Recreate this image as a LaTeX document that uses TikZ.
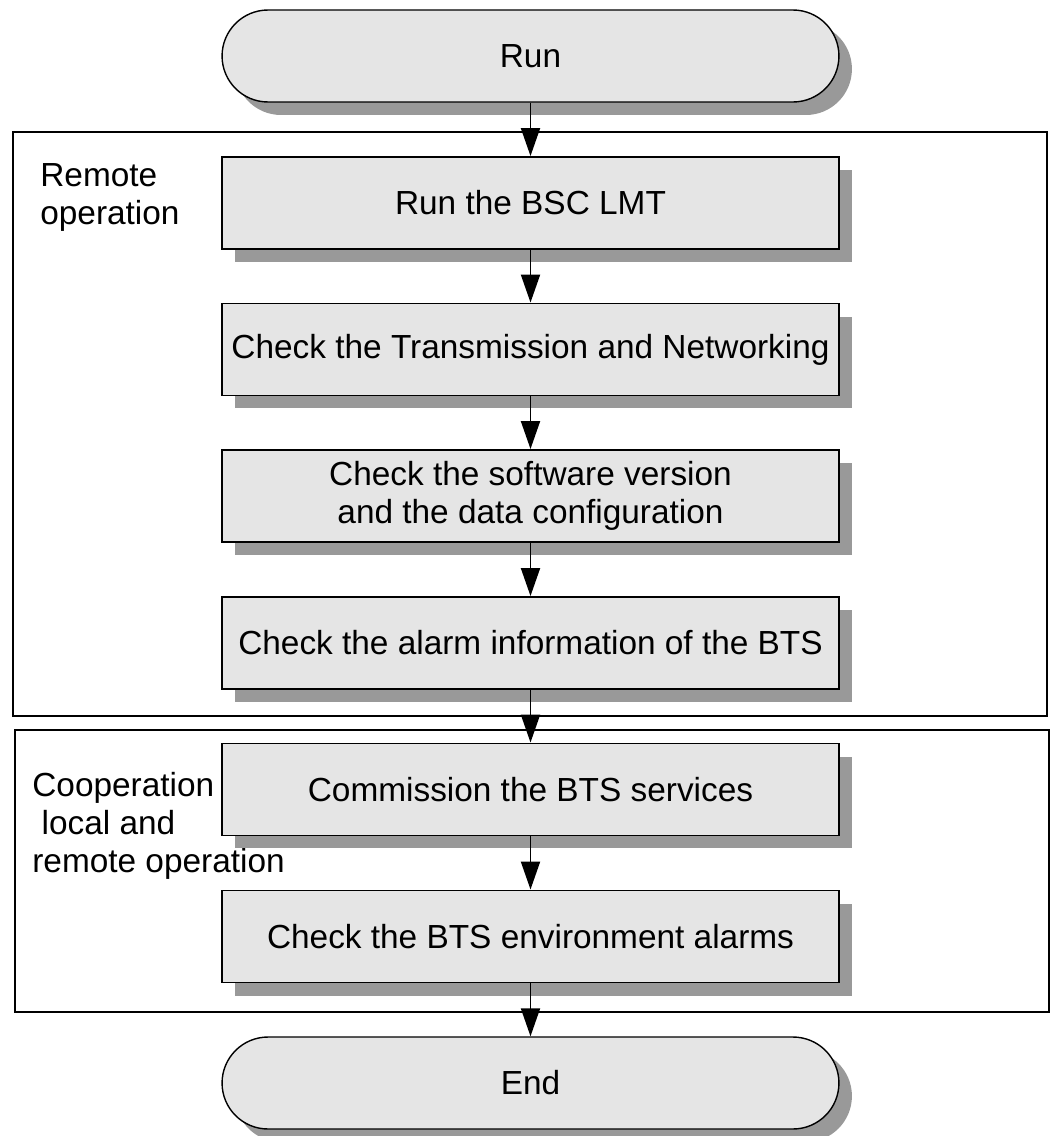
\documentclass[tikz,border=0pt]{standalone}
\usepackage{fontspec}
\setmainfont{Liberation Sans}
\usetikzlibrary{arrows.meta,shadows}

\begin{document}
\begin{tikzpicture}
  [x=0.02cm, y=-0.02cm,
  font=\fontsize{19}{21.6}\selectfont,
  ombre/.style={
    drop shadow={shadow xshift=0.26cm, shadow yshift=-0.26cm,
      fill=black!40, opacity=1}},
  terminal/.style={
    draw=black,
    fill=black!10,
    rectangle,
    rounded corners=0.92cm,
    minimum width=12.34cm,
    minimum height=1.84cm,
    line width=0.8pt,
    ombre}, etape/.style={
    draw=black,
    fill=black!10,
    rectangle,
    align=center,
    minimum width=12.34cm,
    minimum height=1.84cm,
    line width=1.1pt,
    ombre}, zone/.style={
    draw=black,
    line width=1.1pt}, legende/.style={
    align=left,
    inner sep=0pt,
    anchor=base west}, fleche/.style={
    line width=1.1pt,
    -{Triangle[length=0.56cm, width=0.38cm]}}]

  \useasboundingbox (0,0) rectangle (1054,1136);

  % the two operation areas
  \draw [zone] (13,132) rectangle (1047,716);
  \draw [zone] (15,730) rectangle (1049,1012);

  \node [legende] at (40,224) (distant) {Remote\\operation};
  \node [legende] at (32,872) (local) {Cooperation\\\ local and\\remote operation};

  \node [terminal] at (530.5,56) (run) {Run};

  \node [etape] at (530.5,203) (lmt) {Run the BSC LMT};

  \node [etape] at (530.5,349.5) (transmission) {Check the Transmission and Networking};

  \node [etape] at (530.5,496) (version) {Check the software version\\and the data configuration};

  \node [etape] at (530.5,643) (alarme) {Check the alarm information of the BTS};

  \node [etape] at (530.5,789.5) (services) {Commission the BTS services};

  \node [etape] at (530.5,936.5) (environnement) {Check the BTS environment alarms};

  \node [terminal] at (530.5,1083) (end) {End};

  \draw [fleche] (run) -- (lmt);
  \draw [fleche] (lmt) -- (transmission);
  \draw [fleche] (transmission) -- (version);
  \draw [fleche] (version) -- (alarme);
  \draw [fleche] (alarme) -- (services);
  \draw [fleche] (services) -- (environnement);
  \draw [fleche] (environnement) -- (end);
\end{tikzpicture}
\end{document}
